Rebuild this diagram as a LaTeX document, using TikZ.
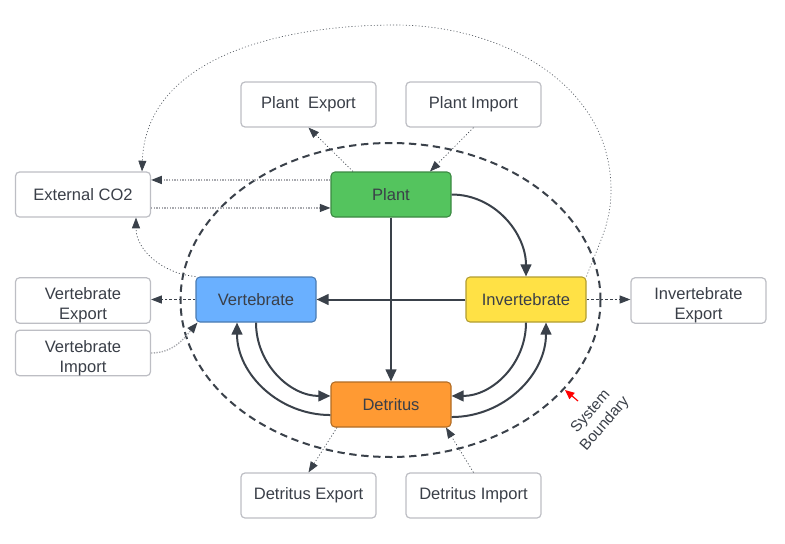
\documentclass[tikz,border=0pt]{standalone}
\usepackage{fontspec}
\setmainfont{Liberation Sans}
\usetikzlibrary{arrows.meta,positioning}

\definecolor{textDark}{HTML}{3A3F48}
\definecolor{lineDark}{HTML}{3A414A}
\definecolor{boxGray}{HTML}{BDBEC4}
\definecolor{dotGray}{HTML}{A8A9AE}
\definecolor{plantGreen}{HTML}{54C45E}
\definecolor{vertBlue}{HTML}{6AB0FF}
\definecolor{invYellow}{HTML}{FFE145}
\definecolor{detOrange}{HTML}{FF9A33}

\begin{document}
\begin{tikzpicture}%
        [x=0.75pt, y=-0.75pt,
        every node/.style={font=\fontsize{12.4}{15}\selectfont, text=textDark},
        extbox/.style={draw=boxGray, line width=0.9pt, rounded corners=3pt, fill=white,
                minimum width=101.25pt, minimum height=33.75pt, inner sep=0pt, align=center},
        tallbox/.style={extbox, text height=31.5pt, text depth=2.6pt},
        compbox/.style={line width=0.8pt, rounded corners=3pt,
                minimum width=90pt, minimum height=33.75pt, inner sep=0pt},
        flow/.style={color=lineDark, line width=1.5pt, -{Triangle[length=9pt,width=8pt]}},
        leak/.style={color=lineDark, line width=0.5pt, dash pattern=on 0.8pt off 1.6pt,
                -{Triangle[length=8pt,width=6pt,color=lineDark]}},
        gas/.style={color=dotGray, line width=1pt, dash pattern=on 1pt off 1pt,
                -{Triangle[length=8pt,width=6pt,color=lineDark]}},
        loss/.style={color=lineDark, line width=0.7pt, dash pattern=on 2pt off 1.5pt,
                -{Triangle[length=8pt,width=6pt]}},
        boundary/.style={color=lineDark, line width=1.5pt, dash pattern=on 5.5pt off 3.5pt}]

    %% Canvas
    \useasboundingbox (0,0) rectangle (785,543);

    %% System boundary
    \draw[boundary] (390.5,300) ellipse [x radius=157.5pt, y radius=117.75pt];

    %% Compartments
    \node[compbox, draw=plantGreen!70!black, fill=plantGreen] (Plant) at (391,194.5) {Plant};
    \node[compbox, draw=vertBlue!70!black, fill=vertBlue] (Vert) at (256,299.5) {Vertebrate};
    \node[compbox, draw=invYellow!70!black, fill=invYellow] (Inv) at (526,299.5) {Invertebrate};
    \node[compbox, draw=detOrange!70!black, fill=detOrange] (Det) at (391,404.5) {Detritus};

    %% Outside pools
    \node[extbox] (PlantExp) at (308.5,104.5) {Plant~~Export};
    \node[extbox] (PlantImp) at (473.5,104.5) {Plant Import};
    \node[extbox] (CO2) at (83,194.5) {External CO2};
    \node[tallbox] (VertExp) at (83,300.5) {Vertebrate\\Export};
    \node[tallbox] (VertImp) at (83,353) {Vertebrate\\Import};
    \node[tallbox] (InvExp) at (698.5,300.5) {Invertebrate\\Export};
    \node[extbox] (DetExp) at (308.5,495.5) {Detritus Export};
    \node[extbox] (DetImp) at (473.5,495.5) {Detritus Import};

    %% Internal flows
    \draw[flow] (Plant.south) -- (Det.north);
    \draw[flow] (Inv.west) -- (Vert.east);
    \draw[flow] (Plant.east) to[out=0,in=90] (Inv.north);
    \draw[flow] (Vert.south) to[out=-90,in=180] ([yshift=6.4pt]Det.west);
    \draw[flow] ([yshift=-7.9pt]Det.west) to[out=180,in=-90] ([xshift=-14.25pt]Vert.south);
    \draw[flow] (Inv.south) to[out=-90,in=0] ([yshift=6.4pt]Det.east);
    \draw[flow] ([yshift=-9.4pt]Det.east) to[out=0,in=-90] ([xshift=15pt]Inv.south);

    %% Carbon dioxide exchange
    \draw[gas] ([yshift=10.9pt]Plant.west) -- ([yshift=10.9pt]CO2.east);
    \draw[gas] ([yshift=-10.1pt]CO2.east) -- ([yshift=-10.1pt]Plant.west);
    \draw[leak] (Vert.north west) to[out=175,in=-90] ([xshift=39.75pt]CO2.south);
    \coordinate (loopR) at (611,190);
    \coordinate (loopT) at (395,25);
    \draw[leak, color=lineDark!85] (Inv.north east) to[out=70,in=-90] (loopR)
        to[out=90,in=0] (loopT) to[out=180,in=88] ([xshift=44.25pt]CO2.north);

    %% Imports and exports
    \draw[leak] ([xshift=-28.5pt]Plant.north) -- (PlantExp.south);
    \draw[leak] (PlantImp.south) -- ([xshift=29.25pt]Plant.north);
    \draw[leak] ([xshift=-40.5pt]Det.south) -- (DetExp.north);
    \draw[leak] (DetImp.north) -- ([xshift=41.25pt]Det.south);
    \draw[loss] (Vert.west) -- (Vert.west -| VertExp.east);
    \draw[loss] (Inv.east) -- (Inv.east -| InvExp.west);
    \draw[gas] (VertImp.east) to[out=0,in=-130] ([xshift=1.5pt]Vert.south west);

    %% Boundary label
    \node[rotate=49, align=center, font=\fontsize{11.5}{14}\selectfont] (SysLbl) at (598,418) {System\\Boundary};
    \coordinate (bndTip) at (565,390);
    \coordinate (bndTail) at (578,401);
    \draw[red, line width=0.9pt, -{Triangle[length=7pt,width=6pt]}] (bndTail) -- (bndTip);
\end{tikzpicture}
\end{document}
